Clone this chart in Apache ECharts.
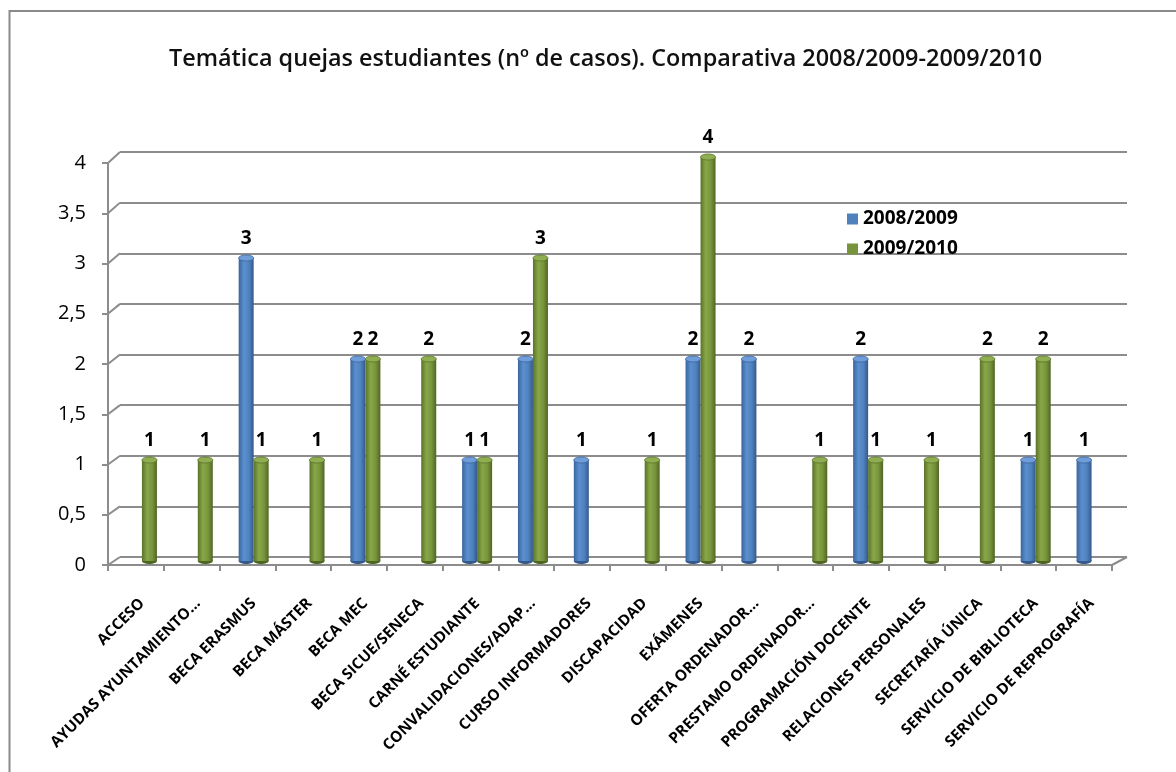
<!DOCTYPE html>
<html>
<head>
<meta charset="utf-8">
<script src="https://cdn.jsdelivr.net/npm/echarts@6/dist/echarts.min.js"></script>
<style>
  html, body { margin: 0; padding: 0; background: #fff; }
  #chart { width: 1176px; height: 772px; }
</style>
</head>
<body>
<div id="chart"></div>
<script>
// Topics of student complaints, number of cases per academic year
const categories = [
  'ACCESO', 'AYUDAS AYUNTAMIENTO…', 'BECA ERASMUS', 'BECA MÁSTER', 'BECA MEC',
  'BECA SICUE/SENECA', 'CARNÉ ESTUDIANTE', 'CONVALIDACIONES/ADAP…', 'CURSO INFORMADORES',
  'DISCAPACIDAD', 'EXÁMENES', 'OFERTA ORDENADOR…', 'PRESTAMO ORDENADOR…',
  'PROGRAMACIÓN DOCENTE', 'RELACIONES PERSONALES', 'SECRETARÍA ÚNICA',
  'SERVICIO DE BIBLIOTECA', 'SERVICIO DE REPROGRAFÍA'
];
const seriesNames = ['2008/2009', '2009/2010'];
const values0809 = [null, null, 3, null, 2, null, 1, 2, 1, null, 2, 2, null, 2, null, null, 1, 1];
const values0910 = [1, 1, 1, 1, 2, 2, 1, 3, null, 1, 4, null, 1, 1, 1, 2, 2, null];
const yMin = 0, yMax = 4, yStep = 0.5;

// Layout of the pseudo-3D box: back wall, front edges, bars in between
const BACK = { left: 120, right: 49, top: 152, bottom: 215 };
const FRONT = { left: 108, right: 64, top: 163, bottom: 207 };
const MID = { left: 114, right: 56.5, top: 157, bottom: 211 };
const W = 1176;
const BAR_W = 15;
const GRAY = '#8c8c8c';
const FONT = "'Open Sans', 'Noto Sans', sans-serif";

const palette = {
  blue: { base: '#4f81bd', cap: '#6f9dd9', rim: '#3a659c',
    grad: ['#3a659c', '#5b8fd0', '#4f81bd', '#34598a'] },
  green: { base: '#77933c', cap: '#8fae52', rim: '#5a7229',
    grad: ['#5a7229', '#88a848', '#77933c', '#4f6623'] }
};

function cylinderFill(p) {
  return new echarts.graphic.LinearGradient(0, 0, 1, 0, [
    { offset: 0, color: p.grad[0] },
    { offset: 0.35, color: p.grad[1] },
    { offset: 0.7, color: p.grad[2] },
    { offset: 1, color: p.grad[3] }
  ]);
}

// Cylinder bodies with their value labels
function bodySeries(name, data, p) {
  return {
    name: name, type: 'bar', xAxisIndex: 2, yAxisIndex: 2,
    data: data, barWidth: BAR_W, barGap: '0%', z: 3,
    itemStyle: { color: cylinderFill(p) },
    label: {
      show: true, position: 'top', distance: 10,
      fontFamily: FONT, fontWeight: 'bold', fontSize: 19, color: '#000'
    }
  };
}

// Elliptical ends of each cylinder; slot -1 is the left bar, +1 the right one
function capSeries(id, data, p, slot, atTop) {
  return {
    id: id, type: 'custom', xAxisIndex: 2, yAxisIndex: 2, silent: true,
    z: atTop ? 5 : 2,
    data: data.map(function (v, i) { return [i, v]; }),
    encode: { x: 0, y: 1 },
    renderItem: function (params, api) {
      const v = api.value(1);
      if (v == null || isNaN(v)) return null;
      const pt = api.coord([api.value(0), atTop ? v : 0]);
      const cx = pt[0] + slot * BAR_W / 2;
      return {
        type: 'ellipse',
        shape: { cx: cx, cy: pt[1], rx: BAR_W / 2, ry: 3 },
        style: atTop
          ? { fill: p.cap, stroke: p.rim, lineWidth: 0.8 }
          : { fill: p.grad[3] }
      };
    }
  };
}

function valueAxis(gridIndex, extra) {
  return Object.assign({
    gridIndex: gridIndex, type: 'value', min: yMin, max: yMax, interval: yStep,
    axisLine: { show: false }, axisTick: { show: false },
    axisLabel: { show: false }, splitLine: { show: false }
  }, extra || {});
}

const chart = echarts.init(document.getElementById('chart'), null, { renderer: 'canvas' });

chart.setOption({
  animation: false,
  backgroundColor: '#fff',
  title: {
    text: 'Temática quejas estudiantes (nº de casos). Comparativa 2008/2009-2009/2010',
    left: 164, top: 43,
    textStyle: { fontFamily: FONT, fontSize: 23.4, fontWeight: 600, color: '#111' }
  },
  legend: {
    orient: 'vertical', left: 842, top: 204, itemGap: 10,
    itemWidth: 11, itemHeight: 11, icon: 'rect',
    data: [
      { name: seriesNames[0], itemStyle: { color: palette.blue.base } },
      { name: seriesNames[1], itemStyle: { color: palette.green.base } }
    ],
    textStyle: { fontFamily: FONT, fontWeight: 'bold', fontSize: 19, lineHeight: 20, color: '#000' }
  },
  grid: [
    Object.assign({ containLabel: false }, BACK),
    Object.assign({ containLabel: false }, FRONT),
    Object.assign({ containLabel: false }, MID)
  ],
  xAxis: [
    { gridIndex: 0, type: 'category', data: categories, show: false },
    {
      gridIndex: 1, type: 'category', data: categories, boundaryGap: true,
      axisLine: { show: true, lineStyle: { color: GRAY, width: 2 } },
      axisTick: { show: true, length: 6, interval: 0, lineStyle: { color: GRAY, width: 2 } },
      axisLabel: { show: false }
    },
    {
      gridIndex: 2, type: 'category', data: categories, boundaryGap: true,
      axisLine: { show: false }, axisTick: { show: false },
      axisLabel: {
        show: true, interval: 0, rotate: 45, margin: 40,
        fontFamily: FONT, fontWeight: 'bold', fontSize: 15.3, color: '#000'
      }
    }
  ],
  yAxis: [
    valueAxis(0, { splitLine: { show: true, lineStyle: { color: GRAY, width: 2 } } }),
    valueAxis(1, {
      axisLine: { show: true, lineStyle: { color: GRAY, width: 2 } },
      axisTick: { show: true, length: 6, lineStyle: { color: GRAY, width: 2 } },
      axisLabel: {
        show: true, margin: 22, fontFamily: FONT, fontSize: 20, color: '#000',
        formatter: function (v) { return String(v).replace('.', ','); }
      }
    }),
    valueAxis(2)
  ],
  series: [
    bodySeries(seriesNames[0], values0809, palette.blue),
    bodySeries(seriesNames[1], values0910, palette.green),
    capSeries('top0809', values0809, palette.blue, -1, true),
    capSeries('top0910', values0910, palette.green, 1, true),
    capSeries('base0809', values0809, palette.blue, -1, false),
    capSeries('base0910', values0910, palette.green, 1, false)
  ]
});

// Depth edges joining the front axis to the back wall, plus the outer frame
const edges = [];
for (let v = yMin; v <= yMax + 1e-9; v += yStep) {
  const yf = chart.convertToPixel({ yAxisIndex: 1 }, v);
  const yb = chart.convertToPixel({ yAxisIndex: 0 }, v);
  edges.push({
    type: 'line', silent: true, z: 1,
    shape: { x1: FRONT.left, y1: yf, x2: BACK.left, y2: yb },
    style: { stroke: GRAY, lineWidth: 2 }
  });
}
const yf0 = chart.convertToPixel({ yAxisIndex: 1 }, yMin);
const yb0 = chart.convertToPixel({ yAxisIndex: 0 }, yMin);
edges.push({
  type: 'line', silent: true, z: 1,
  shape: { x1: W - FRONT.right, y1: yf0, x2: W - BACK.right, y2: yb0 },
  style: { stroke: GRAY, lineWidth: 2 }
});
edges.push({
  type: 'rect', silent: true, z: 0,
  shape: { x: 9.5, y: 11, width: 1300, height: 900 },
  style: { fill: 'none', stroke: '#8a8a8a', lineWidth: 2 }
});
chart.setOption({ graphic: edges });
</script>
</body>
</html>
